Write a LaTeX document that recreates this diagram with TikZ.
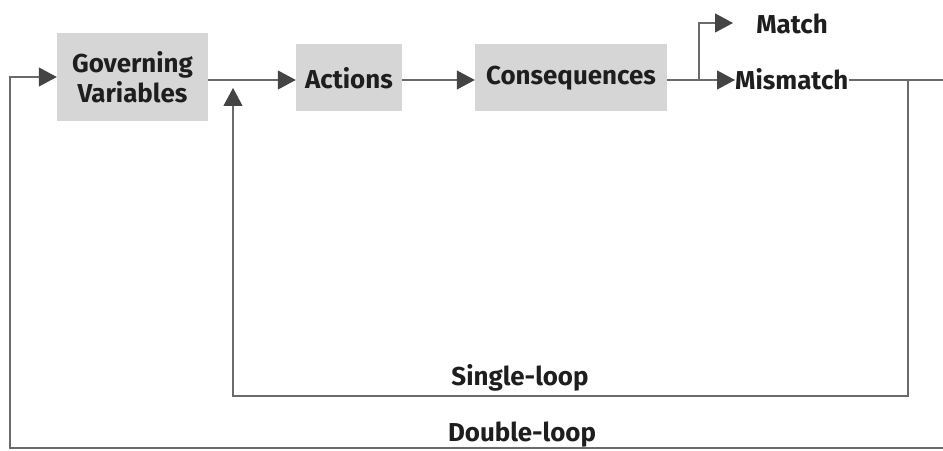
\documentclass[tikz,border=0pt]{standalone}
\usepackage{fontspec}
\setmainfont{Fira Sans}[UprightFont=* Bold, BoldFont=* Bold]
\usetikzlibrary{arrows.meta}
\definecolor{boxgray}{HTML}{D6D6D6}
\definecolor{linegray}{HTML}{6A6A6A}
\definecolor{tipgray}{HTML}{444444}
\definecolor{inkdark}{HTML}{1E1E1E}
\begin{document}
\begin{tikzpicture}[x=1bp,y=1bp,
  box/.style={fill=boxgray, draw=none, inner sep=0pt, align=center,
    font=\fontsize{26}{30}\selectfont, text=inkdark},
  lbl/.style={font=\fontsize{26}{30}\selectfont, text=inkdark, inner sep=0pt},
  conn/.style={draw=linegray, line width=1.1bp},
  flow/.style={conn, -{Triangle[length=18bp,width=19bp,fill=tipgray,color=tipgray]}}
]
\useasboundingbox (0,0) rectangle (943,451);

% process boxes
\node[box, minimum width=151bp, minimum height=88bp] (gov) at (132.5,374) {Governing\\Variables};
\node[box, minimum width=106bp, minimum height=67bp] (act) at (349,373) {Actions};
\node[box, minimum width=192bp, minimum height=67bp] (cons) at (571,373) {Consequences};

% outcomes
\node[lbl, anchor=west] (mis) at (735,372) {Mismatch};
\node[lbl] (match) at (792,427) {Match};

% loop labels
\node[lbl] (single) at (520,73) {Single-loop};
\node[lbl] (double) at (522,16) {Double-loop};

% corner points of the feedback loops
\coordinate (brk) at (699,371);
\coordinate (mtip) at (733,428);
\coordinate (sr) at (908,371);
\coordinate (sbr) at (908,55);
\coordinate (sbl) at (233,55);
\coordinate (stip) at (233,363);
\coordinate (dr) at (943,3);
\coordinate (dbl) at (10,3);
\coordinate (dtl) at (10,374);
\coordinate (mend) at (943,371);

% main flow
\draw[flow] (gov.east |- 0,371) -- (act.west |- 0,371);
\draw[flow] (act.east |- 0,371) -- (cons.west |- 0,371);
\draw[flow] (cons.east |- 0,371) -- (mis.west |- 0,371);
\draw[flow] (brk) |- (mtip);
\draw[conn] (mis.east |- 0,371) -- (mend);

% single loop
\draw[flow] (sr) -- (sbr) -- (sbl) -- (stip);

% double loop
\draw[flow] (dr) -- (dbl) -- (dtl) -- (gov.west |- dtl);
\end{tikzpicture}
\end{document}
